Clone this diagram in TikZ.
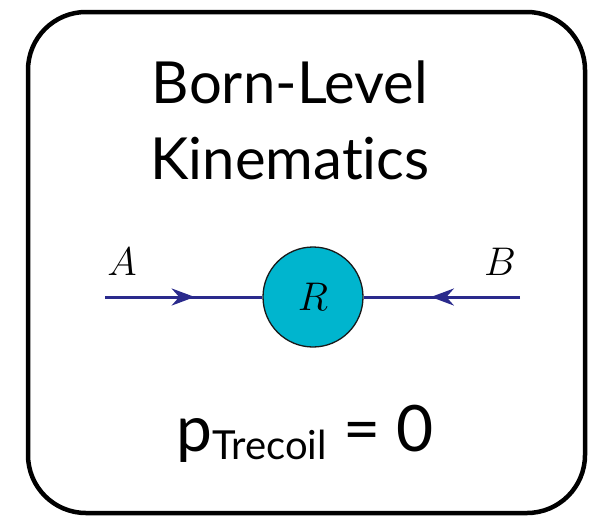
\documentclass[tikz,border=0pt]{standalone}
\usepackage{fix-cm}
\usepackage{fontspec}
\setmainfont{Lato}[Ligatures=NoCommon]
\usepackage{xcolor}
\usetikzlibrary{arrows.meta,decorations.markings}
\definecolor{lineblue}{RGB}{42,42,140}
\definecolor{blobcyan}{RGB}{0,181,206}

\begin{document}
\begin{tikzpicture}[x=1pt,y=-1pt,>=Latex,
  particle/.style={lineblue,line width=3pt,
    postaction={decorate,decoration={markings,
      mark=at position #1 with {\arrow{Stealth[length=23pt,width=17pt]}}}}},
  blob/.style={circle,draw=black!90,line width=1.3pt,fill=blobcyan,
    minimum size=100pt,inner sep=0pt,font=\fontsize{40}{40}\selectfont},
  tag/.style={font=\fontsize{40}{40}\selectfont}]
 \useasboundingbox (0,0) rectangle (591,517);
 \draw[line width=4.5pt,rounded corners=58pt] (28,12) rectangle (585,513);
 \node[align=center,font=\fontsize{58}{76}\selectfont] (title) at (290,120)
   {Born-Level\\Kinematics};
 \node[blob] (R) at (313,297) {$R$};
 \coordinate (A) at (105,297);
 \coordinate (B) at (520,297);
 \draw[particle=0.57] (A) -- (R.west);
 \draw[particle=0.57] (B) -- (R.east);
 \node[tag] (labA) at (122,262) {$A$};
 \node[tag] (labB) at (500,262) {$B$};
 \node[font=\fontsize{64}{64}\selectfont] (recoil) at (305,434)
   {p\raisebox{-0.12em}{\fontsize{40}{40}\selectfont Trecoil} = 0};
\end{tikzpicture}
\end{document}
